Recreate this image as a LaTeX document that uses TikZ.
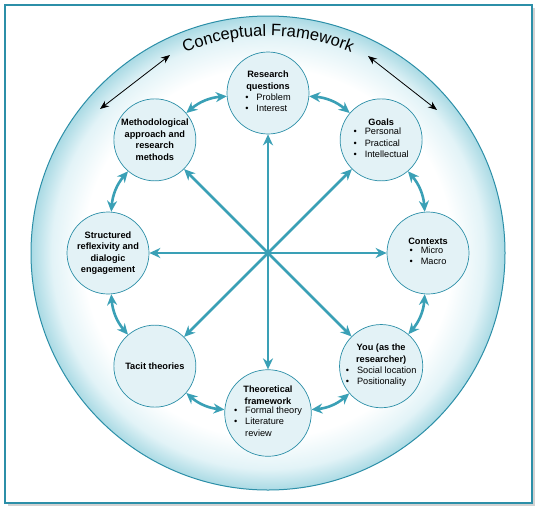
\documentclass[tikz,border=0pt]{standalone}
\usepackage{fontspec}
\setmainfont{Liberation Sans}
\usetikzlibrary{arrows.meta,decorations.text,shadows,positioning}
\definecolor{cfteal}{RGB}{58,160,182}
\definecolor{cfedge}{RGB}{44,143,168}
\definecolor{cfstage}{RGB}{227,242,246}
\definecolor{cfrim}{RGB}{170,218,228}
\definecolor{cfrimlight}{RGB}{226,243,247}
\pgfdeclareradialshading{rimglow}{\pgfpoint{0bp}{0bp}}{color(0bp)=(white); color(19.5bp)=(white); color(22.8bp)=(cfrimlight); color(25bp)=(cfrim); color(50bp)=(cfrim)}
\tikzset{>=Stealth}
\tikzset{
  stage/.style={circle, draw=cfedge, line width=0.7pt, fill=cfstage, minimum size=82pt,
                inner sep=0pt, align=center, font=\fontsize{9.2}{11.5}\selectfont},
  spoke/.style={->, cfteal, line width=2.6pt, >={Stealth[length=11pt,width=10pt]}},
  link/.style={<->, cfteal, line width=2.6pt, >={Stealth[length=11pt,width=10pt]}},
  outer/.style={<->, black, line width=0.8pt, >={Stealth[length=9pt,width=7pt]}}
}
\newcommand{\stagelist}[1]{\begin{tabular}{@{}l@{\hspace{8pt}}l@{}}#1\end{tabular}}

\begin{document}
\begin{tikzpicture}[x=1pt,y=1pt]
  \useasboundingbox (0,0) rectangle (543,-514);
  \pgfmathsetmacro{\ringr}{160}
  \coordinate (hub) at (268,-253);
  \draw[cfedge, line width=1.4pt, fill=white,
        drop shadow={shadow xshift=2.5pt, shadow yshift=-2.5pt, fill=black!35}]
        (5,-5) rectangle (532,-503);
  \draw[cfedge, line width=1pt, shading=rimglow] (hub) circle (237);
  \path[decorate, decoration={text along path, text align=center,
        text={|\fontsize{16.5}{17}\selectfont|Conceptual Framework}}]
        ([shift={(150:217)}]hub) arc[start angle=150, end angle=30, radius=217];
  \coordinate (lfa) at (100,-109);
  \coordinate (lfb) at (170,-55);
  \coordinate (rfa) at (368,-56);
  \coordinate (rfb) at (437,-110);
  \draw[outer] (lfa) -- (lfb);
  \draw[outer] (rfa) -- (rfb);

  \node[stage] (rq) at ([shift={(90:\ringr)}]hub)
    {\textbf{Research}\\\textbf{questions}\\\stagelist{\textbullet & Problem\\ \textbullet & Interest}};
  \node[stage] (goals) at ([shift={(45:\ringr)}]hub)
    {\textbf{Goals}\\\stagelist{\textbullet & Personal\\ \textbullet & Practical\\ \textbullet & Intellectual}};
  \node[stage] (ctx) at ([shift={(0:\ringr)}]hub)
    {\textbf{Contexts}\\\stagelist{\textbullet & Micro\\ \textbullet & Macro}};
  \node[stage] (you) at ([shift={(-45:\ringr)}]hub)
    {\textbf{You (as the}\\\textbf{researcher)}\\\stagelist{\textbullet & Social location\\ \textbullet & Positionality}};
  \node[stage] (theo) at ([shift={(-90:\ringr)}]hub)
    {\textbf{Theoretical}\\\textbf{framework}\\\stagelist{\textbullet & Formal theory\\ \textbullet & Literature\\ & review}};
  \node[stage] (tacit) at ([shift={(-135:\ringr)}]hub) {\textbf{Tacit theories}};
  \node[stage] (refl) at ([shift={(180:\ringr)}]hub)
    {\textbf{Structured}\\\textbf{reflexivity and}\\\textbf{dialogic}\\\textbf{engagement}};
  \node[stage] (meth) at ([shift={(135:\ringr)}]hub)
    {\textbf{Methodological}\\\textbf{approach and}\\\textbf{research}\\\textbf{methods}};

  \foreach \n in {rq,goals,ctx,you,theo,tacit,refl,meth}
    \draw[spoke] (hub) -- (\n);
  \foreach \a/\b in {rq/goals,goals/ctx,ctx/you,you/theo,theo/tacit,tacit/refl,refl/meth,meth/rq}
    \draw[link] (\a) to[bend left=18] (\b);
\end{tikzpicture}
\end{document}
